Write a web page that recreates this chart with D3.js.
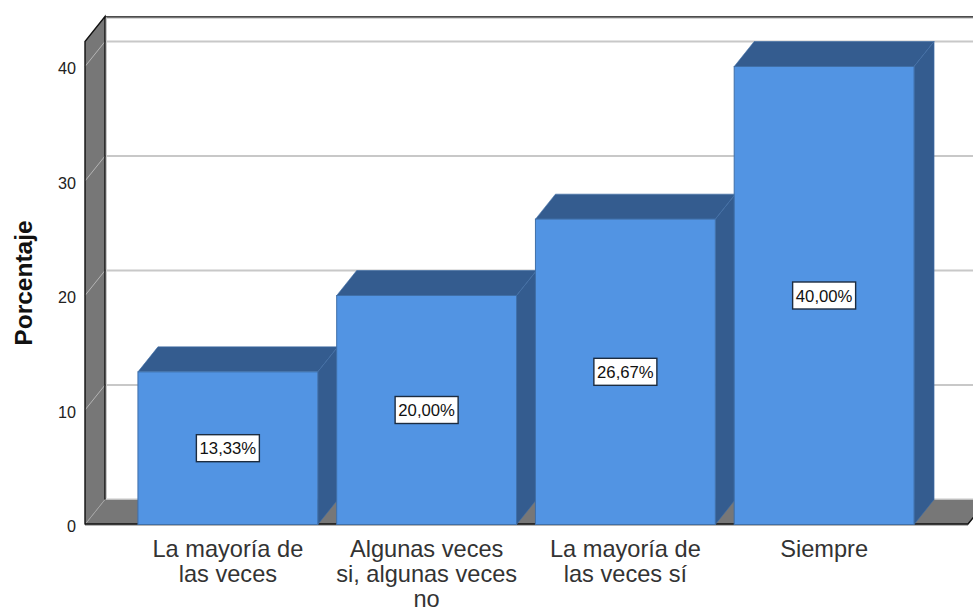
<!DOCTYPE html>
<html><head><meta charset="utf-8">
<script src="https://cdnjs.cloudflare.com/ajax/libs/d3/7.8.5/d3.min.js"></script>
<style>html,body{margin:0;padding:0;background:#fff}svg{display:block}text{font-family:"Liberation Sans",Arial,sans-serif}</style>
</head><body><svg id="c" width="973" height="608"></svg>
<script>
const categories = ["La mayoría de las veces", "Algunas veces si, algunas veces no", "La mayoría de las veces sí", "Siempre"];
const categoryLines = [["La mayoría de","las veces"],["Algunas veces","si, algunas veces","no"],["La mayoría de","las veces sí"],["Siempre"]];
const values = [13.33, 20.00, 26.67, 40.00];
const valueLabels = ["13,33%","20,00%","26,67%","40,00%"];
const yTicks = [0,10,20,30,40];
const yTitle = "Porcentaje";

const svg = d3.select("#c");
const dx = 20, dy = -25;
const y = d3.scaleLinear().domain([0,40]).range([524.5,66.5]);
const x = d3.scaleBand().domain(categories).range([128.5,923.5]).paddingInner(0.095).paddingOuter(0.0475);
const left = 85, right = 968, yBase = y(0), yTop = 41.5;
const wallCol = "#777777", front = "#5294E3", dark = "#345C8F", edge="#3F6FA8";
const poly = pts => pts.map(p=>p.join(",")).join(" ");

// back wall top line
svg.append("line").attr("x1",left+dx).attr("x2",973).attr("y1",yTop+dy+0.5).attr("y2",yTop+dy+0.5).attr("stroke","#111").attr("stroke-width",1.4);
svg.append("line").attr("x1",left+dx).attr("x2",973).attr("y1",yTop+dy+1.6).attr("y2",yTop+dy+1.6).attr("stroke","#bbb").attr("stroke-width",1);

// side wall
svg.append("polygon").attr("points",poly([[left,yTop],[left+dx,yTop+dy],[left+dx,yBase+dy],[left,yBase]])).attr("fill",wallCol);
// floor
svg.append("polygon").attr("points",poly([[left,yBase],[left+dx,yBase+dy],[right+dx,yBase+dy],[right,yBase]])).attr("fill",wallCol);
svg.append("line").attr("x1",left+dx).attr("x2",973).attr("y1",yBase+dy-0.5).attr("y2",yBase+dy-0.5).attr("stroke","#c4c4c4");

// gridlines
const grid = svg.append("g").selectAll("g").data(yTicks.slice(1)).join("g");
grid.append("line").attr("x1",left+dx).attr("x2",973).attr("y1",d=>y(d)+dy).attr("y2",d=>y(d)+dy).attr("stroke","#c8c8c8").attr("stroke-width",1.8);
grid.append("line").attr("x1",left).attr("x2",left+dx).attr("y1",d=>y(d)).attr("y2",d=>y(d)+dy).attr("stroke","#b5b5b5").attr("stroke-width",1);
svg.append("line").attr("x1",left).attr("x2",left+dx).attr("y1",yBase).attr("y2",yBase+dy).attr("stroke","#a5a5a5").attr("stroke-width",1);

// wall outlines
svg.append("path").attr("d",`M${left},${yBase}V${yTop}L${left+dx},${yTop+dy}V${yBase+dy}`).attr("fill","none").attr("stroke","#111").attr("stroke-width",1.4);
svg.append("line").attr("x1",left+dx+1.5).attr("x2",left+dx+1.5).attr("y1",yTop+dy+1).attr("y2",yBase+dy-1).attr("stroke","#c8c8c8").attr("stroke-width",1);
svg.append("path").attr("d",`M${left},${yBase-0.5}H${right}L${right+dx},${yBase+dy}`).attr("fill","none").attr("stroke","#111").attr("stroke-width",1.4);
svg.append("line").attr("x1",left).attr("x2",right).attr("y1",yBase+1).attr("y2",yBase+1).attr("stroke","#b5b5b5").attr("stroke-width",1);

// bars
const bars = svg.append("g").selectAll("g").data(categories).join("g");
const X = c=>x(c), W = x.bandwidth(), V = (c)=>y(values[categories.indexOf(c)]);
bars.append("polygon").attr("fill",dark).attr("stroke",edge).attr("stroke-width",.6)
  .attr("points",c=>poly([[X(c),V(c)],[X(c)+dx,V(c)+dy],[X(c)+W+dx,V(c)+dy],[X(c)+W,V(c)]]));
bars.append("polygon").attr("fill",dark).attr("stroke",edge).attr("stroke-width",.6)
  .attr("points",c=>poly([[X(c)+W,V(c)],[X(c)+W+dx,V(c)+dy],[X(c)+W+dx,yBase+dy],[X(c)+W,yBase]]));
bars.append("rect").attr("x",X).attr("y",V).attr("width",W).attr("height",c=>yBase-V(c))
  .attr("fill",front).attr("stroke",edge).attr("stroke-width",1);

// value labels
const lab = bars.append("g").attr("transform",(c,i)=>`translate(${X(c)+W/2},${y(values[i]/2)})`);
lab.append("rect").attr("x",-31.5).attr("y",-13.5).attr("width",63).attr("height",27).attr("fill","#fff").attr("stroke","#1c2c40").attr("stroke-width",1.4);
lab.append("text").attr("text-anchor","middle").attr("y",6).attr("font-size",16.7).attr("fill","#111").text((c,i)=>valueLabels[i]);

// y axis
const ax = svg.append("g").attr("transform",`translate(${left},0)`).call(d3.axisLeft(y).tickValues(yTicks).tickSize(0).tickPadding(9).tickFormat(d3.format("d")));
ax.select(".domain").remove();
ax.selectAll("text").attr("font-size",16.2).attr("fill","#222").attr("dy","0.45em").attr("font-family",'"Liberation Sans",Arial,sans-serif');

// y title
svg.append("text").attr("transform","translate(32,283) rotate(-90)").attr("text-anchor","middle").attr("font-size",24.5).attr("font-weight","bold").attr("fill","#111").text(yTitle);

// x labels
const xl = svg.append("g").selectAll("text").data(categories).join("text")
  .attr("text-anchor","middle").attr("font-size",23.6).attr("fill","#333")
  .attr("transform",c=>`translate(${X(c)+W/2},0)`);
xl.selectAll("tspan").data((c,i)=>categoryLines[i]).join("tspan").attr("x",0).attr("y",(d,j)=>557+j*24.8).text(d=>d);
</script></body></html>
